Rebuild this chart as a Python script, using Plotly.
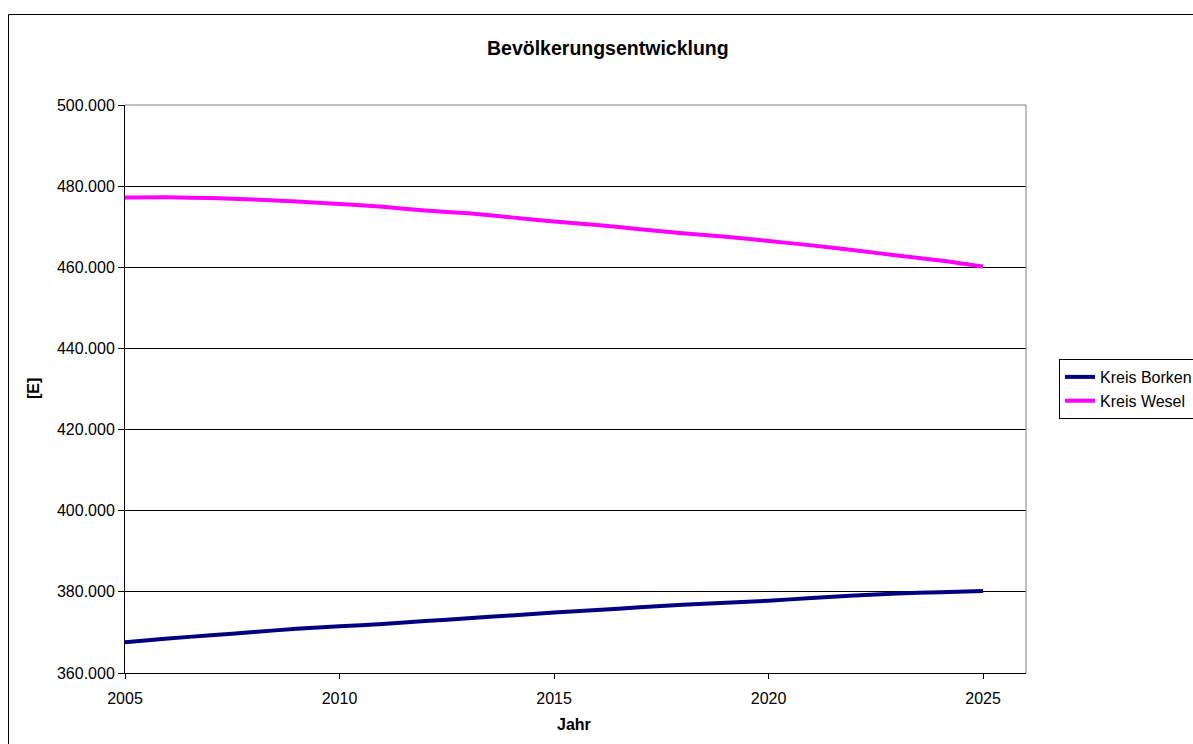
import plotly.graph_objects as go

# Population projection per district (inhabitants)
years = list(range(2005, 2026))
borken = [367600, 368500, 369300, 370100, 370900, 371500, 372100, 372800,
          373500, 374200, 374900, 375500, 376200, 376800, 377300, 377800,
          378500, 379100, 379600, 379900, 380200]
wesel = [477200, 477250, 477050, 476700, 476200, 475600, 474900, 474000,
         473300, 472300, 471300, 470400, 469400, 468400, 467500, 466500,
         465400, 464200, 462900, 461700, 460200]

series_names = ["Kreis Borken", "Kreis Wesel"]
series_colors = ["#000080", "#FF00FF"]

FONT = "Liberation Sans, Arial, sans-serif"

fig = go.Figure()
for name, vals, col in zip(series_names, [borken, wesel], series_colors):
    fig.add_trace(go.Scatter(
        x=years, y=vals, name=name, mode="lines",
        line=dict(color=col, width=4, shape="spline", smoothing=0.6),
    ))

W, H = 1193, 744
L, R, T, B = 125, 167, 105, 71
pw, ph = W - L - R, H - T - B


def px_x(px):
    return (px - L) / pw


def px_y(py):
    return (H - B - py) / ph


fig.update_layout(
    width=W, height=H,
    margin=dict(l=L, r=R, t=T, b=B, autoexpand=False),
    paper_bgcolor="white", plot_bgcolor="white",
    separators=",.",
    font=dict(family=FONT, size=16, color="black"),
    showlegend=True,
    legend=dict(
        x=px_x(1059), xanchor="left", y=px_y(359), yanchor="top",
        bordercolor="black", borderwidth=1, bgcolor="white",
        font=dict(family=FONT, size=16, color="black"),
        tracegroupgap=0, itemwidth=30,
    ),
    xaxis=dict(
        range=[2005, 2026], dtick=5, tick0=2005,
        showgrid=False, zeroline=False,
        showline=True, linecolor="black", linewidth=1,
        ticks="outside", ticklen=5, tickcolor="black",
        ticklabelstandoff=6,
        tickfont=dict(family=FONT, size=16),
    ),
    yaxis=dict(
        range=[360000, 500000], dtick=20000,
        tickformat=",d",
        showgrid=True, gridcolor="black", gridwidth=1,
        zeroline=False,
        showline=True, linecolor="black", linewidth=1,
        ticks="outside", ticklen=6, tickcolor="black",
        tickfont=dict(family=FONT, size=16),
    ),
    shapes=[
        # plot area frame (top and right edges)
        dict(type="line", xref="paper", yref="paper", x0=0, x1=1, y0=1, y1=1,
             line=dict(color="#808080", width=1), layer="above"),
        dict(type="line", xref="paper", yref="paper", x0=1, x1=1, y0=0, y1=1,
             line=dict(color="#808080", width=1), layer="above"),
        # chart area frame
        dict(type="rect", xref="paper", yref="paper",
             x0=px_x(8.5), x1=px_x(1230), y0=px_y(14.5), y1=px_y(780),
             line=dict(color="black", width=1), layer="above"),
    ],
    annotations=[
        dict(text="<b>Bevölkerungsentwicklung</b>", xref="paper", yref="paper",
             x=px_x(608), y=px_y(48), xanchor="center", yanchor="middle",
             showarrow=False, font=dict(family=FONT, size=19.5, color="black")),
        dict(text="<b>[E]</b>", xref="paper", yref="paper",
             x=px_x(33), y=px_y(389), xanchor="center", yanchor="middle",
             textangle=-90, showarrow=False,
             font=dict(family=FONT, size=16, color="black")),
        dict(text="<b>Jahr</b>", xref="paper", yref="paper",
             x=px_x(574), y=px_y(724), xanchor="center", yanchor="middle",
             showarrow=False, font=dict(family=FONT, size=16, color="black")),
    ],
)

fig.write_html("out.html")
